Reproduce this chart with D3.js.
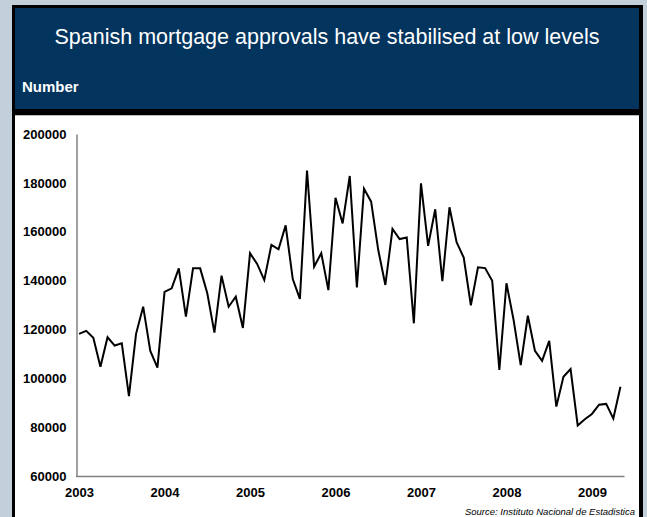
<!DOCTYPE html>
<html>
<head>
<meta charset="utf-8">
<script src="https://cdn.jsdelivr.net/npm/d3@7"></script>
<style>
  body { margin: 0; background: #c3d0da; }
  svg { display: block; font-family: "Liberation Sans", Arial, sans-serif; }
</style>
</head>
<body>
<svg id="chart" width="647" height="517"></svg>
<script>
// monthly approvals, Jan 2003 .. May 2009
var years = ["2003", "2004", "2005", "2006", "2007", "2008", "2009"];
var approvals = [
  118200, 119400, 116600, 104700, 116800, 113400, 114300, 92700, 118200, 129300, 111200, 104400,
  135400, 136800, 145000, 125200, 145000, 145000, 134800, 118700, 142000, 129300, 133400, 120600,
  151200, 146800, 140200, 154600, 152800, 162600, 140600, 132500, 185000, 145700, 151200, 136100,
  173900, 163400, 182800, 137200, 177600, 172300, 152500, 138200, 161100, 157000, 157600, 122500,
  179800, 154200, 169200, 139800, 170000, 155700, 149400, 129900, 145400, 145100, 139900, 103400,
  138900, 123900, 105400, 125600, 111200, 107100, 115300, 88400, 100600, 103800, 80700, 83200,
  85400, 89200, 89500, 83500, 96500
];
var yTicks = [60000, 80000, 100000, 120000, 140000, 160000, 180000, 200000];

var months = [];
years.forEach(function(y) {
  for (var m = 1; m <= 12; m++) months.push(y + "-" + (m < 10 ? "0" + m : m));
});
months = months.slice(0, approvals.length);

var svg = d3.select("#chart");

// frame + header
svg.append("rect").attr("x", 12).attr("y", 5).attr("width", 631).attr("height", 520)
  .attr("fill", "#000");
svg.append("rect").attr("x", 15).attr("y", 8).attr("width", 624).attr("height", 101)
  .attr("fill", "#02345e");
svg.append("rect").attr("x", 15).attr("y", 115).attr("width", 624).attr("height", 410)
  .attr("fill", "#fff");
svg.append("line").attr("x1", 15).attr("x2", 639).attr("y1", 115.5).attr("y2", 115.5)
  .attr("stroke", "#bbb");

svg.append("text").attr("x", 327).attr("y", 44).attr("text-anchor", "middle")
  .attr("fill", "#fff").attr("font-size", "21.5px")
  .text("Spanish mortgage approvals have stabilised at low levels");
svg.append("text").attr("x", 22).attr("y", 92)
  .attr("fill", "#fff").attr("font-size", "15px").attr("font-weight", "bold")
  .text("Number");

var x = d3.scalePoint().domain(months).range([75.5, 624]).padding(0.5);
var y = d3.scaleLinear().domain([60000, 200000]).range([476, 134]);

// y axis
var yAxis = svg.append("g").attr("transform", "translate(76.5,0)")
  .call(d3.axisLeft(y).tickValues(yTicks).tickSize(0).tickPadding(10).tickFormat(d3.format("d")));
yAxis.select(".domain").attr("stroke", "#444").attr("stroke-width", 1);
yAxis.selectAll("text").attr("font-size", "13px").attr("font-weight", "bold")
  .attr("fill", "#000").attr("font-family", "'Liberation Sans', Arial, sans-serif");

// x axis
var xAxis = svg.append("g").attr("transform", "translate(0,476)")
  .call(d3.axisBottom(x).tickValues(years.map(function(y) { return y + "-01"; }))
    .tickSize(0).tickPadding(12).tickFormat(function(d) { return d.slice(0, 4); }));
xAxis.select(".domain").attr("stroke", "#808080").attr("stroke-width", 1.6);
xAxis.selectAll("text").attr("font-size", "13px").attr("font-weight", "bold")
  .attr("fill", "#000").attr("font-family", "'Liberation Sans', Arial, sans-serif");

// series
var line = d3.line()
  .x(function(d, i) { return x(months[i]); })
  .y(function(d) { return y(d); });
svg.append("path").datum(approvals)
  .attr("d", line)
  .attr("fill", "none").attr("stroke", "#000").attr("stroke-width", 2)
  .attr("stroke-linejoin", "miter");

svg.append("text").attr("x", 635).attr("y", 515).attr("text-anchor", "end")
  .attr("font-size", "9.5px").attr("font-style", "italic").attr("fill", "#000")
  .text("Source: Instituto Nacional de Estadistica");
</script>
</body>
</html>
